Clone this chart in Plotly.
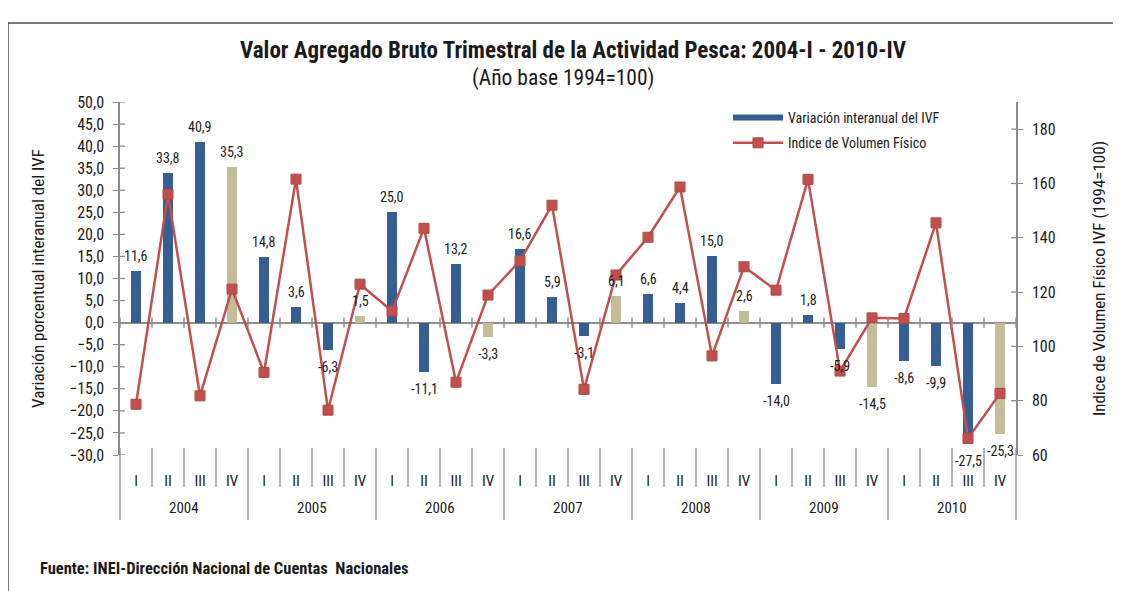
import plotly.graph_objects as go

# ---------------- data ----------------
years = ["2004", "2005", "2006", "2007", "2008", "2009", "2010"]
quarters = ["I", "II", "III", "IV"]

variacion = [11.6, 33.8, 40.9, 35.3,
             14.8, 3.6, -6.3, 1.5,
             25.0, -11.1, 13.2, -3.3,
             16.6, 5.9, -3.1, 6.1,
             6.6, 4.4, 15.0, 2.6,
             -14.0, 1.8, -5.9, -14.5,
             -8.6, -9.9, -27.5, -25.3]

indice = [78.7, 156.0, 81.8, 121.1,
          90.4, 161.6, 76.5, 122.9,
          113.0, 143.5, 86.8, 118.9,
          131.5, 152.0, 84.2, 126.3,
          140.2, 158.7, 96.5, 129.3,
          120.7, 161.5, 90.9, 110.5,
          110.3, 145.5, 66.1, 82.7]

left_ticks = list(range(-30, 55, 5))
right_ticks = list(range(60, 200, 20))

# ---------------- style ----------------
FONT = "Liberation Sans Narrow, Arial Narrow, Roboto Condensed, Roboto, sans-serif"
BLUE = "#365F91"
TAN = "#C4BD97"
RED = "#C0504D"
AXC = "#8C8C8C"
TXT = "#1a1a1a"

PW, PH = 896, 353          # plot area size in px
L, T = 112, 94             # margins (page has an 8px body margin)

n = len(variacion)
xs = list(range(n))
cat_labels = [quarters[i % 4] for i in xs]
bar_colors = [TAN if quarters[i % 4] == "IV" else BLUE for i in xs]


def fmt(v):
    return f"{v:.1f}".replace(".", ",")


def px_x(px):   # page x (reference px) -> paper fraction
    return (px - 120) / PW


def px_y(py):   # page y (reference px) -> paper fraction
    return (455 - py) / PH


fig = go.Figure()
fig.add_trace(go.Bar(x=xs, y=variacion, width=0.32, marker=dict(color=bar_colors, line=dict(width=0)),
                     showlegend=False, hoverinfo="skip", yaxis="y"))
# legend swatch for the bars (line-like, as in the original)
fig.add_trace(go.Scatter(x=[None], y=[None], mode="lines", line=dict(color=BLUE, width=6),
                         name="Variación interanual del IVF", legendgroup="a"))
fig.add_trace(go.Scatter(x=xs, y=indice, yaxis="y2", mode="lines+markers",
                         line=dict(color=RED, width=2.5),
                         marker=dict(symbol="square", size=10, color=RED, line=dict(color="#B34743", width=1)),
                         name="Indice de Volumen Físico", legendgroup="b"))

annotations = []
# data labels
for i, v in enumerate(variacion):
    annotations.append(dict(x=i, y=v, xref="x", yref="y", text=fmt(v), showarrow=False,
                            yanchor="middle", yshift=15 if v >= 0 else -17,
                            font=dict(family=FONT, size=14, color=TXT)))
# year labels
for k, yr in enumerate(years):
    annotations.append(dict(x=4 * k + 1.5, y=0, xref="x", yref="paper", text=yr, showarrow=False,
                            yanchor="middle", yshift=-53, font=dict(family=FONT, size=15, color=TXT)))
# titles
annotations.append(dict(x=px_x(573), y=px_y(50), xref="paper", yref="paper", showarrow=False,
                        xanchor="center", yanchor="middle",
                        text="<b>Valor Agregado Bruto Trimestral de la Actividad Pesca: 2004-I - 2010-IV</b>",
                        font=dict(family=FONT, size=23, color=TXT)))
annotations.append(dict(x=px_x(563), y=px_y(78), xref="paper", yref="paper", showarrow=False,
                        xanchor="center", yanchor="middle",
                        text="(Año base 1994=100)", font=dict(family=FONT, size=21.5, color=TXT)))
annotations.append(dict(x=px_x(38), y=px_y(568), xref="paper", yref="paper",
                        xanchor="left", yanchor="middle", showarrow=False,
                        text="<b>Fuente: INEI-Dirección Nacional de Cuentas  Nacionales</b>",
                        font=dict(family=FONT, size=16.5, color=TXT)))

shapes = []
# ticks crossing the zero line at category boundaries
for k in range(n + 1):
    shapes.append(dict(type="line", xref="paper", yref="y", x0=k / n, x1=k / n,
                       ysizemode="pixel", yanchor=0, y0=-5, y1=5, line=dict(color=AXC, width=1.5)))
# category separators below the plot
for k in range(n + 1):
    long_ = (k % 4 == 0)
    shapes.append(dict(type="line", xref="paper", yref="paper", x0=k / n, x1=k / n,
                       y0=px_y(448), y1=px_y(520 if long_ else 487),
                       line=dict(color=AXC, width=1.3)))
# inner halves of axis ticks (crossing ticks)
for v in left_ticks:
    shapes.append(dict(type="line", xref="paper", yref="y", xsizemode="pixel", xanchor=0,
                       x0=0, x1=5, y0=v, y1=v, line=dict(color=AXC, width=1.3)))
for v in right_ticks:
    shapes.append(dict(type="line", xref="paper", yref="y2", xsizemode="pixel", xanchor=1,
                       x0=-5, x1=0, y0=v, y1=v, line=dict(color=AXC, width=1.3)))
# outer frame
shapes.append(dict(type="rect", xref="paper", yref="paper",
                   x0=px_x(8), x1=px_x(1140), y0=px_y(610), y1=px_y(23),
                   line=dict(color="#4d4d4d", width=1.5), fillcolor="rgba(0,0,0,0)", layer="below"))

W, H = 1113, 583
fig.update_layout(
    width=W, height=H,
    margin=dict(l=L, r=W - L - PW, t=T, b=H - T - PH),
    paper_bgcolor="white", plot_bgcolor="white",
    font=dict(family=FONT, size=14, color=TXT),
    separators=",.",
    bargap=0,
    showlegend=True,
    legend=dict(x=px_x(728), y=1.0, xanchor="left", yanchor="top",
                traceorder="grouped", tracegroupgap=4, itemwidth=50,
                font=dict(family=FONT, size=14, color=TXT), bgcolor="rgba(255,255,255,0)"),
    xaxis=dict(range=[-0.5, n - 0.5], tickvals=xs, ticktext=cat_labels, ticks="outside", ticklen=12,
               tickcolor="rgba(0,0,0,0)", showline=False, showgrid=False, zeroline=False,
               tickfont=dict(family=FONT, size=15, color=TXT)),
    yaxis=dict(range=[-30, 50], tickvals=left_ticks, tickformat=".1f", showline=True, linecolor=AXC,
               linewidth=1.5, ticks="outside", ticklen=5, tickcolor=AXC, tickwidth=1.3, showgrid=False,
               zeroline=True, zerolinecolor=AXC, zerolinewidth=2, ticklabelstandoff=6,
               tickfont=dict(family=FONT, size=16, color=TXT),
               title=dict(text="Variación porcentual interanual del IVF", standoff=20,
                          font=dict(family=FONT, size=17, color=TXT))),
    yaxis2=dict(range=[60, 190], overlaying="y", side="right", tickvals=right_ticks, showline=True,
                linecolor=AXC, linewidth=1.5, ticks="outside", ticklen=5, tickcolor=AXC, tickwidth=1.3,
                showgrid=False, zeroline=False, ticklabelstandoff=6,
                tickfont=dict(family=FONT, size=16, color=TXT),
                title=dict(text="Indice de Volumen Físico IVF (1994=100)", standoff=38,
                           font=dict(family=FONT, size=17, color=TXT))),
    annotations=annotations,
    shapes=shapes,
)

fig.write_html("out.html")
